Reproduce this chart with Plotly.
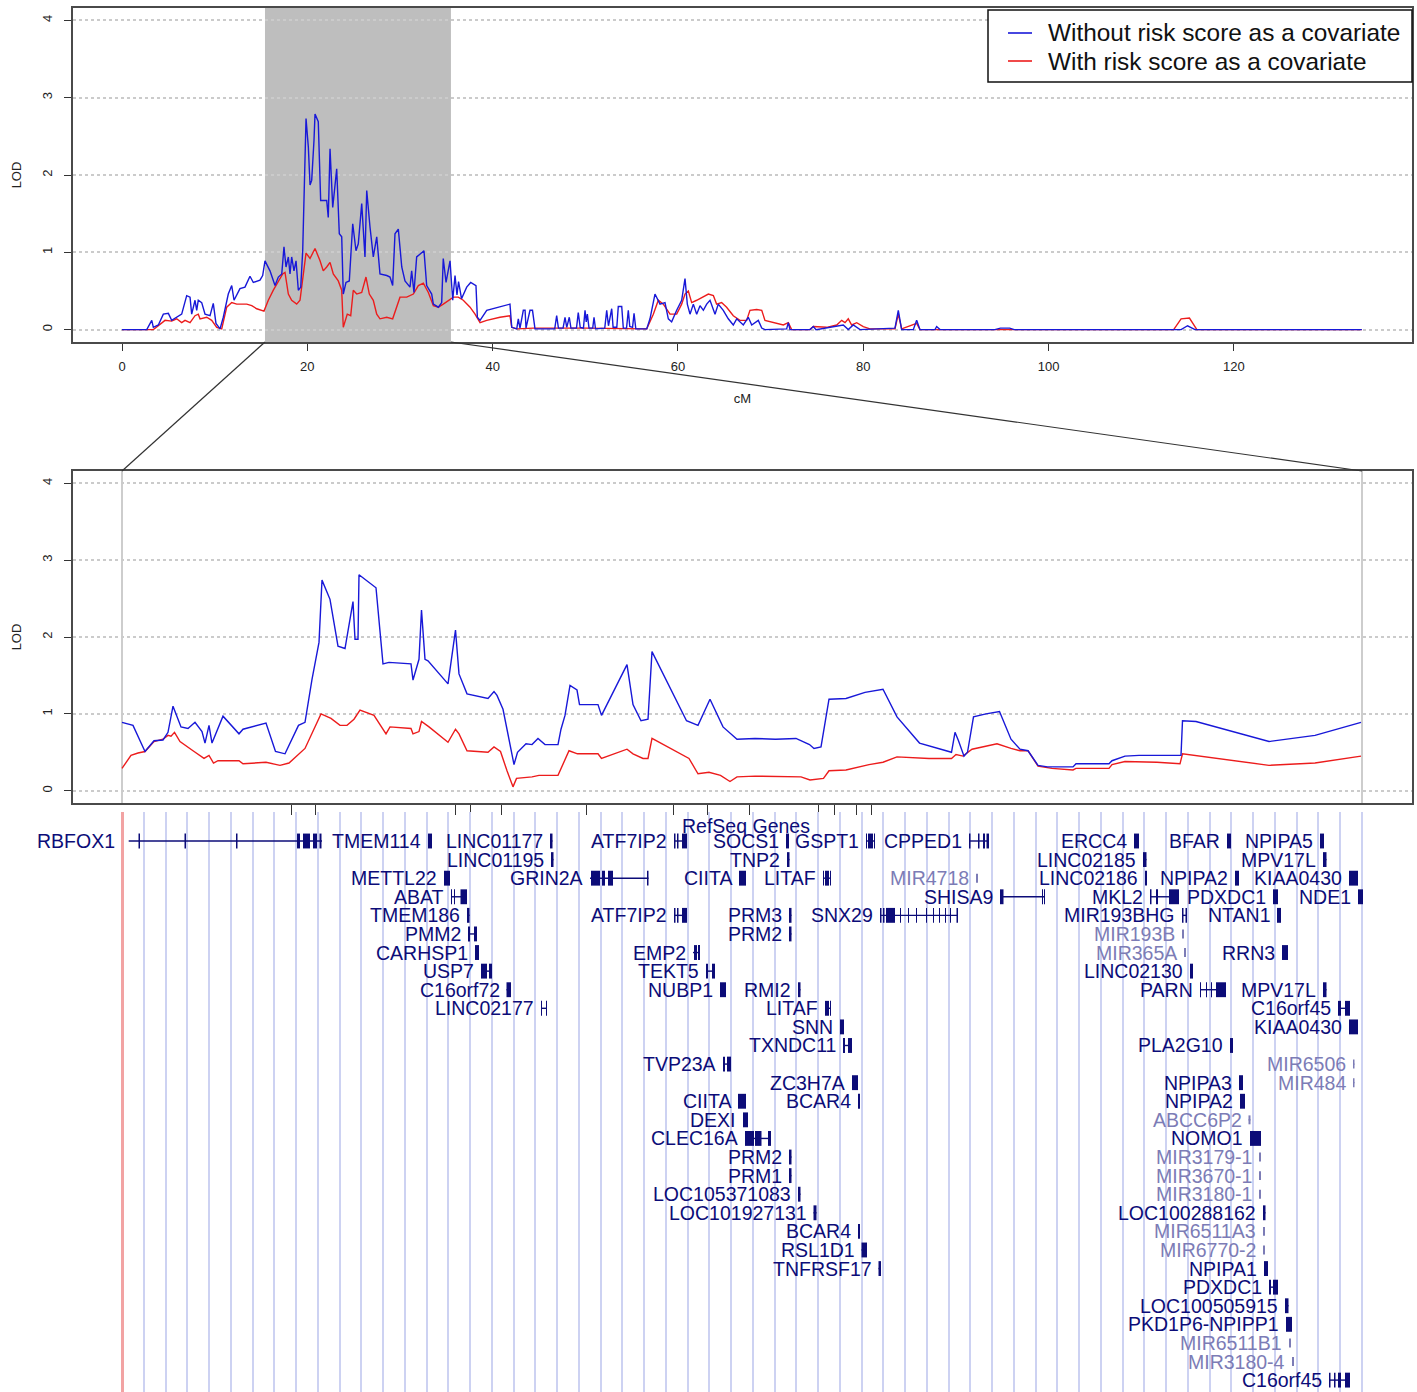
import plotly.graph_objects as go

W, H = 1417, 1392

# ---------------- top panel: genome-wide LOD profile (cM) ----------------
top_blue_cm = [0, 2.67, 3.21, 3.38, 3.92, 4.46, 5.00, 5.36, 6.44, 6.98, 7.34, 7.52, 7.88, 8.06, 8.23, 8.60,
               8.96, 9.50, 9.85, 10.14, 10.58, 10.93, 11.47, 11.84, 12.09, 12.73, 13.27, 13.81, 14.17, 14.54,
               14.89, 15.18, 15.43, 15.97, 16.51, 16.87, 17.24, 17.48, 17.70, 17.95, 18.13, 18.31, 18.56,
               18.78, 19.03, 19.29, 19.50, 19.86, 20.11, 20.29, 20.47, 20.72, 20.83, 21.18, 21.44, 22.09,
               22.26, 22.45, 22.74, 23.17, 23.45, 23.71, 23.88, 24.17, 24.53, 24.90, 25.25, 25.50, 25.87,
               26.22, 26.41, 26.76, 27.12, 27.49, 27.84, 28.57, 28.92, 29.21, 29.46, 29.82, 30.19, 30.54,
               31.08, 31.26, 31.51, 31.80, 32.34, 32.59, 32.88, 33.42, 33.60, 34.14, 34.50, 34.67, 34.97,
               35.40, 35.69, 35.94, 36.15, 36.32, 36.64, 37.20, 37.63, 38.20, 38.35, 38.64, 39.36, 40.79,
               41.87, 42.06, 42.60, 42.77, 42.95, 43.31, 43.50, 43.60, 44.03, 44.30, 44.57, 46.70, 46.91,
               47.10, 47.60, 47.81, 48.00, 48.27, 48.45, 49.05, 49.24, 49.45, 49.80, 49.97, 50.10, 50.22,
               50.40, 50.80, 50.94, 51.10, 52.10, 52.31, 52.50, 52.85, 53.00, 53.40, 53.56, 53.75, 53.93,
               54.10, 54.45, 54.64, 54.80, 55.10, 55.26, 55.45, 56.63, 56.98, 57.52, 58.06, 58.60, 58.96,
               59.32, 59.86, 60.40, 60.76, 61.01, 61.30, 61.66, 62.02, 62.38, 62.74, 63.10, 63.46, 64.00,
               64.35, 64.89, 65.43, 65.97, 66.34, 67.05, 67.59, 67.96, 68.67, 69.04, 69.39, 71.73, 71.91,
               72.09, 74.25, 74.61, 74.90, 76.05, 77.84, 78.38, 78.92, 79.65, 83.42, 83.78, 84.14, 85.40,
               85.76, 86.12, 87.74, 87.92, 88.28, 94.20, 94.80, 95.80, 96.30, 114.30, 115.00, 115.80, 133.80]
top_blue_lod = [0, 0, 0.12, 0.03, 0.06, 0.20, 0.21, 0.12, 0.20, 0.44, 0.42, 0.20, 0.38, 0.25, 0.38, 0.35,
                0.20, 0.18, 0.34, 0.08, 0.01, 0.16, 0.46, 0.57, 0.38, 0.53, 0.55, 0.69, 0.61, 0.63,
                0.64, 0.70, 0.89, 0.76, 0.57, 0.68, 0.72, 1.07, 0.81, 0.94, 0.72, 0.94, 0.76,
                0.89, 0.51, 0.55, 1.02, 2.73, 2.36, 1.87, 1.93, 2.45, 2.79, 2.69, 1.67, 1.67,
                1.45, 2.34, 1.58, 2.08, 1.24, 1.20, 0.46, 0.61, 0.63, 1.37, 1.02, 1.11, 1.63,
                0.94, 1.80, 1.33, 0.94, 1.20, 0.72, 0.70, 0.68, 0.57, 1.24, 1.30, 0.81, 0.63,
                0.55, 0.76, 0.48, 0.94, 1.00, 1.02, 0.57, 0.46, 0.33, 0.29, 0.35, 0.92, 0.61,
                0.89, 0.38, 0.70, 0.45, 0.62, 0.40, 0.55, 0.61, 0.57, 0.16, 0.12, 0.25, 0.29,
                0.33, 0.03, 0.01, 0.14, 0.02, 0.25, 0.25, 0.02, 0.25, 0.25, 0.01, 0.01, 0.18,
                0.02, 0.02, 0.16, 0.03, 0.16, 0.02, 0.02, 0.22, 0.03, 0.02, 0.25, 0.10, 0.20,
                0.02, 0.02, 0.16, 0.01, 0.02, 0.25, 0.05, 0.27, 0.03, 0.03, 0.30, 0.30, 0.30,
                0.02, 0.02, 0.25, 0.04, 0.03, 0.21, 0.01, 0.01, 0.14, 0.46, 0.33, 0.35, 0.14,
                0.10, 0.25, 0.38, 0.66, 0.33, 0.20, 0.33, 0.20, 0.31, 0.25, 0.33, 0.38, 0.20,
                0.33, 0.25, 0.14, 0.06, 0.14, 0.06, 0.16, 0.06, 0.12, 0.02, 0.00, 0.01, 0.09,
                0.00, 0.00, 0.04, 0.00, 0.02, 0.06, 0.00, 0.06, 0.00, 0.02, 0.25, 0.00, 0.00,
                0.12, 0.00, 0.00, 0.04, 0.00, 0.00, 0.02, 0.02, 0.00, 0.00, 0.05, 0.00, 0.00]

top_red_cm = [0, 3.38, 3.92, 4.64, 5.36, 5.90, 6.44, 6.80, 7.34, 7.88, 8.23, 8.42, 9.14, 9.68, 10.22, 10.76,
              11.30, 11.84, 12.38, 13.46, 14.00, 14.54, 15.32, 15.79, 16.33, 16.87, 17.34, 17.59, 17.95,
              18.31, 18.85, 19.21, 19.86, 20.29, 20.83, 21.37, 21.72, 22.09, 22.45, 22.80, 23.34, 23.71,
              23.88, 24.31, 24.68, 24.96, 25.33, 25.87, 26.33, 26.69, 27.12, 27.49, 27.84, 28.57, 29.21,
              30.00, 30.73, 31.44, 31.98, 32.52, 33.06, 33.60, 34.14, 34.67, 35.22, 35.76, 36.29, 36.83,
              37.56, 38.10, 38.64, 39.36, 40.79, 41.87, 42.06, 42.60, 44.39, 50.00, 56.63, 57.34, 57.88,
              58.42, 59.14, 59.86, 60.40, 60.76, 61.12, 61.48, 62.02, 62.74, 63.28, 63.82, 64.17, 64.71,
              65.25, 65.97, 66.69, 67.41, 67.77, 68.49, 69.04, 69.39, 70.47, 71.37, 71.91, 72.27, 74.25,
              74.61, 76.05, 77.13, 77.67, 78.03, 78.38, 78.75, 79.29, 80.00, 80.72, 83.42, 83.78, 84.14,
              85.76, 86.12, 88.28, 113.50, 114.30, 115.20, 116.00, 133.80]
top_red_lod = [0, 0, 0.05, 0.12, 0.11, 0.14, 0.09, 0.12, 0.09, 0.18, 0.20, 0.14, 0.16, 0.12, 0.03, 0.01,
               0.29, 0.35, 0.33, 0.33, 0.31, 0.27, 0.24, 0.38, 0.51, 0.63, 0.72, 0.74, 0.46,
               0.38, 0.33, 0.38, 0.99, 0.92, 1.05, 0.89, 0.76, 0.81, 0.87, 0.72, 0.63, 0.51,
               0.03, 0.20, 0.18, 0.51, 0.46, 0.48, 0.68, 0.46, 0.38, 0.20, 0.14, 0.16, 0.14,
               0.42, 0.42, 0.46, 0.57, 0.60, 0.48, 0.31, 0.29, 0.33, 0.38, 0.42, 0.42, 0.38,
               0.29, 0.20, 0.09, 0.12, 0.16, 0.18, 0.03, 0.01, 0.02, 0.02, 0.01, 0.20, 0.38,
               0.33, 0.20, 0.20, 0.33, 0.46, 0.50, 0.35, 0.38, 0.42, 0.46, 0.44, 0.33, 0.35,
               0.29, 0.18, 0.12, 0.12, 0.25, 0.26, 0.25, 0.12, 0.09, 0.06, 0.09, 0.00, 0.00,
               0.04, 0.03, 0.06, 0.12, 0.09, 0.14, 0.06, 0.09, 0.04, 0.01, 0.01, 0.20, 0.01,
               0.08, 0.00, 0.00, 0.00, 0.14, 0.15, 0.00, 0.00]

zoom_region_cm = [15.43, 35.5]

# ---------------- zoom panel (track coordinate of the gene browser window) ----------------
zoom_blue_pos = [0.00, 0.11, 0.23, 0.32, 0.41, 0.46, 0.51, 0.59, 0.66, 0.73, 0.80, 0.83, 0.87, 0.90, 1.01,
                 1.17, 1.21, 1.44, 1.535, 1.63, 1.765, 1.83, 1.90, 1.97, 2.00, 2.08, 2.16, 2.23, 2.31, 2.33,
                 2.36, 2.37, 2.54, 2.61, 2.67, 2.89, 2.91, 2.97, 2.995, 3.03, 3.06, 3.26, 3.335, 3.37, 3.45,
                 3.66, 3.72, 3.75, 3.81, 3.88, 3.92, 3.955, 4.04, 4.10, 4.16, 4.23, 4.36, 4.39, 4.43, 4.48,
                 4.55, 4.575, 4.76, 4.795, 5.05, 5.11, 5.19, 5.26, 5.30, 5.645, 5.76, 5.88, 6.01, 6.15, 6.33,
                 6.535, 6.74, 6.875, 6.92, 6.99, 7.07, 7.24, 7.43, 7.61, 7.75, 7.975, 8.16, 8.295, 8.33,
                 8.365, 8.42, 8.455, 8.515, 8.64, 8.775, 8.89, 8.98, 9.06, 9.16, 9.255, 9.51, 9.54, 9.87,
                 9.90, 10.03, 10.17, 10.59, 10.605, 10.74, 11.47, 11.93, 12.39]
zoom_blue_lod = [0.89, 0.85, 0.51, 0.65, 0.66, 0.76, 1.10, 0.83, 0.81, 0.89, 0.77, 0.62, 0.85, 0.62, 0.97,
                 0.74, 0.80, 0.88, 0.51, 0.48, 0.85, 0.89, 1.45, 1.93, 2.74, 2.49, 1.88, 1.85, 2.46, 1.97,
                 1.97, 2.81, 2.64, 1.65, 1.67, 1.65, 1.44, 1.71, 2.35, 1.71, 1.69, 1.39, 2.09, 1.52, 1.26,
                 1.20, 1.29, 1.24, 1.06, 0.61, 0.34, 0.50, 0.61, 0.60, 0.68, 0.60, 0.60, 0.80, 0.98, 1.37,
                 1.31, 1.12, 1.12, 0.98, 1.64, 1.12, 0.91, 0.93, 1.81, 0.91, 0.85, 1.19, 0.83, 0.67, 0.68,
                 0.67, 0.68, 0.60, 0.55, 0.57, 1.19, 1.20, 1.28, 1.32, 0.96, 0.62, 0.55, 0.50, 0.76,
                 0.65, 0.45, 0.50, 0.96, 1.00, 1.03, 0.67, 0.54, 0.52, 0.33, 0.31, 0.31, 0.35, 0.35,
                 0.39, 0.45, 0.46, 0.46, 0.91, 0.90, 0.64, 0.72, 0.89]

zoom_red_pos = [0.00, 0.09, 0.16, 0.23, 0.32, 0.41, 0.46, 0.49, 0.525, 0.58, 0.71, 0.82, 0.87, 0.915, 0.96,
                1.17, 1.21, 1.44, 1.58, 1.67, 1.83, 1.99, 2.09, 2.18, 2.25, 2.32, 2.38, 2.52, 2.64, 2.68,
                2.89, 2.91, 2.97, 2.995, 3.07, 3.26, 3.335, 3.37, 3.45, 3.66, 3.72, 3.785, 3.85, 3.91,
                3.945, 4.10, 4.17, 4.36, 4.47, 4.555, 4.76, 4.795, 5.05, 5.11, 5.21, 5.26, 5.30, 5.67,
                5.76, 5.87, 5.985, 6.08, 6.15, 6.33, 6.79, 6.88, 7.015, 7.07, 7.24, 7.47, 7.61, 7.75,
                8.07, 8.295, 8.34, 8.41, 8.50, 8.75, 8.89, 8.98, 9.06, 9.16, 9.30, 9.51, 9.54, 9.87,
                9.90, 10.03, 10.35, 10.58, 10.605, 11.47, 11.93, 12.39]
zoom_red_lod = [0.29, 0.46, 0.49, 0.51, 0.64, 0.67, 0.72, 0.71, 0.76, 0.64, 0.52, 0.42, 0.46, 0.36, 0.39,
                0.39, 0.35, 0.37, 0.33, 0.36, 0.55, 1.00, 0.94, 0.85, 0.85, 0.93, 1.05, 0.98, 0.74, 0.83,
                0.81, 0.74, 0.77, 0.90, 0.83, 0.63, 0.80, 0.74, 0.52, 0.50, 0.57, 0.51, 0.26, 0.05,
                0.16, 0.18, 0.20, 0.20, 0.52, 0.48, 0.48, 0.42, 0.54, 0.48, 0.42, 0.42, 0.68, 0.42,
                0.22, 0.24, 0.20, 0.12, 0.18, 0.19, 0.18, 0.14, 0.16, 0.26, 0.27, 0.34, 0.37, 0.44,
                0.42, 0.42, 0.47, 0.45, 0.54, 0.61, 0.55, 0.52, 0.52, 0.32, 0.29, 0.27, 0.29, 0.29,
                0.34, 0.38, 0.37, 0.35, 0.48, 0.33, 0.36, 0.45]

zoom_window_pos = [0.0, 12.40]
marker_pos = [1.697, 1.938, 3.335, 3.482, 3.795, 4.648, 5.51, 5.853, 6.27, 6.96, 7.122, 7.342, 7.49]

series_names = ["Without risk score as a covariate", "With risk score as a covariate"]

# ---------------- RefSeq gene track ----------------
gene_names = ["RBFOX1", "TMEM114", "LINC01177", "ATF7IP2", "SOCS1", "GSPT1", "CPPED1", "ERCC4", "BFAR",
              "NPIPA5", "LINC01195", "TNP2", "LINC02185", "MPV17L", "METTL22", "GRIN2A", "CIITA", "LITAF",
              "MIR4718", "LINC02186", "NPIPA2", "KIAA0430", "ABAT", "SHISA9", "MKL2", "PDXDC1", "NDE1",
              "TMEM186", "ATF7IP2", "PRM3", "SNX29", "MIR193BHG", "NTAN1", "PMM2", "PRM2", "MIR193B",
              "CARHSP1", "EMP2", "MIR365A", "RRN3", "USP7", "TEKT5", "LINC02130", "C16orf72", "NUBP1",
              "RMI2", "PARN", "MPV17L", "LINC02177", "LITAF", "C16orf45", "SNN", "KIAA0430", "TXNDC11",
              "PLA2G10", "TVP23A", "MIR6506", "ZC3H7A", "NPIPA3", "MIR484", "CIITA", "BCAR4", "NPIPA2",
              "DEXI", "ABCC6P2", "CLEC16A", "NOMO1", "PRM2", "MIR3179-1", "PRM1", "MIR3670-1",
              "LOC105371083", "MIR3180-1", "LOC101927131", "LOC100288162", "BCAR4", "MIR6511A3", "RSL1D1",
              "MIR6770-2", "TNFRSF17", "NPIPA1", "PDXDC1", "LOC100505915", "PKD1P6-NPIPP1", "MIR6511B1",
              "MIR3180-4", "C16orf45"]
gene_rows = [0, 0, 0, 0, 0, 0, 0, 0, 0,
             0, 1, 1, 1, 1, 2, 2, 2, 2,
             2, 2, 2, 2, 3, 3, 3, 3, 3,
             4, 4, 4, 4, 4, 4, 5, 5, 5,
             6, 6, 6, 6, 7, 7, 7, 8, 8,
             8, 8, 8, 9, 9, 9, 10, 10, 11,
             11, 12, 12, 13, 13, 13, 14, 14, 14,
             15, 15, 16, 16, 17, 17, 18, 18,
             19, 19, 20, 20, 21, 21, 22,
             22, 23, 23, 24, 25, 26, 27,
             28, 29]
gene_start = [0.067, 3.06, 4.28, 5.52, 6.64, 7.44, 8.47, 10.12, 11.05,
              11.98, 4.29, 6.65, 10.21, 12.01, 3.22, 4.68, 6.17, 7.01,
              8.54, 10.23, 11.13, 12.27, 3.29, 8.78, 10.28, 11.51, 12.36,
              3.45, 5.52, 6.67, 7.58, 10.60, 11.55, 3.46, 6.67, 10.60,
              3.53, 5.71, 10.62, 11.60, 3.59, 5.84, 10.68, 3.845, 5.98,
              6.76, 10.78, 12.01, 4.19, 7.03, 12.16, 7.18, 12.27, 7.21,
              11.08, 6.01, 12.31, 7.30, 11.17, 12.31, 6.16, 7.36, 11.18,
              6.21, 11.265, 6.23, 11.28, 6.67, 11.37, 6.67, 11.37,
              6.76, 11.37, 6.915, 11.41, 7.36, 11.41, 7.395,
              11.41, 7.565, 11.42, 11.47, 11.63, 11.64, 11.67,
              11.70, 12.07]
gene_end = [2.00, 3.10, 4.305, 5.65, 6.67, 7.53, 8.67, 10.17, 11.09,
            12.02, 4.315, 6.675, 10.245, 12.045, 3.28, 5.265, 6.24, 7.09,
            8.56, 10.25, 11.17, 12.36, 3.45, 9.23, 10.57, 11.56, 12.41,
            3.475, 5.65, 6.695, 8.36, 10.65, 11.59, 3.55, 6.695, 10.62,
            3.57, 5.78, 10.64, 11.66, 3.70, 5.93, 10.71, 3.89, 6.04,
            6.785, 11.04, 12.045, 4.25, 7.09, 12.28, 7.22, 12.36, 7.30,
            11.11, 6.09, 12.325, 7.36, 11.21, 12.325, 6.24, 7.38, 11.23,
            6.26, 11.285, 6.49, 11.39, 6.695, 11.39, 6.695, 11.39,
            6.785, 11.39, 6.945, 11.435, 7.38, 11.43, 7.45,
            11.43, 7.59, 11.46, 11.56, 11.665, 11.70, 11.69,
            11.72, 12.28]
gene_noncoding = [(name.startswith("MIR") and name != "MIR193BHG") or name == "ABCC6P2" for name in gene_names]
gene_exons = {
    "RBFOX1": [(0.165, 0.18), (0.625, 0.64), (1.14, 1.155), (1.75, 1.78), (1.81, 1.88), (1.91, 1.95), (1.975, 1.995)],
    "ATF7IP2": [(5.52, 5.535), (5.55, 5.565), (5.60, 5.65)],
    "GSPT1": [(7.44, 7.45), (7.46, 7.51), (7.52, 7.53)],
    "CPPED1": [(8.47, 8.485), (8.56, 8.575), (8.61, 8.63), (8.645, 8.67)],
    "GRIN2A": [(4.69, 4.78), (4.80, 4.83), (4.86, 4.91), (5.25, 5.265)],
    "LITAF": [(7.01, 7.02), (7.03, 7.07), (7.08, 7.09)],
    "ABAT": [(3.29, 3.30), (3.32, 3.33), (3.385, 3.45)],
    "SHISA9": [(8.78, 8.815), (9.20, 9.21), (9.22, 9.23)],
    "MKL2": [(10.28, 10.295), (10.34, 10.36), (10.47, 10.57)],
    "SNX29": [(7.58, 7.595), (7.61, 7.625), (7.64, 7.73), (7.78, 7.79), (7.86, 7.87), (7.94, 7.95),
              (8.04, 8.05), (8.11, 8.12), (8.17, 8.18), (8.23, 8.24), (8.28, 8.29), (8.345, 8.36)],
    "MIR193BHG": [(10.60, 10.615), (10.635, 10.65)],
    "PMM2": [(3.46, 3.48), (3.52, 3.55)],
    "EMP2": [(5.72, 5.75), (5.76, 5.78)],
    "USP7": [(3.59, 3.65), (3.67, 3.70)],
    "TEKT5": [(5.84, 5.86), (5.90, 5.93)],
    "PARN": [(10.78, 10.79), (10.84, 10.85), (10.89, 10.90), (10.94, 11.04)],
    "LINC02177": [(4.19, 4.20), (4.24, 4.25)],
    "C16orf45": [(12.07, 12.085), (12.12, 12.135), (12.16, 12.19), (12.23, 12.28)],
    "TXNDC11": [(7.21, 7.23), (7.26, 7.30)],
    "TVP23A": [(6.01, 6.03), (6.05, 6.09)],
    "CLEC16A": [(6.23, 6.32), (6.33, 6.395), (6.46, 6.49)],
    "PDXDC1": [(11.47, 11.49), (11.51, 11.56)],
}

# ---------------- styling ----------------
FONT = "Liberation Sans, Arial, Helvetica, sans-serif"
BLUE = "#1818D8"
RED = "#EC1C1C"
NAVY = "#0C0C78"
GENE_GRAY = "#7C7CB6"
BOX = "#4A4A4A"

XDOM = [73 / W, 1412 / W]
TOP_DOM = [1 - 342 / H, 1 - 8 / H]
BOT_DOM = [1 - 803 / H, 1 - 471 / H]
TRK_DOM = [0, 1 - 812 / H]
TOP_XR = [-5.29, 139.22]
LOD_R = [-0.16, 4.16]
POS_R = [-0.49, 12.90]
ROW_R = [29.64, -1.56]


def to_paper(v, rng, dom):
    return dom[0] + (v - rng[0]) / (rng[1] - rng[0]) * (dom[1] - dom[0])


fig = go.Figure()

fig.add_trace(go.Scatter(x=top_red_cm, y=top_red_lod, mode="lines", line=dict(color=RED, width=1.4),
                         name=series_names[1], showlegend=False, xaxis="x", yaxis="y", hoverinfo="skip"))
fig.add_trace(go.Scatter(x=top_blue_cm, y=top_blue_lod, mode="lines", line=dict(color=BLUE, width=1.4),
                         name=series_names[0], showlegend=False, xaxis="x", yaxis="y", hoverinfo="skip"))
fig.add_trace(go.Scatter(x=zoom_red_pos, y=zoom_red_lod, mode="lines", line=dict(color=RED, width=1.4),
                         name=series_names[1], showlegend=False, xaxis="x2", yaxis="y2", hoverinfo="skip"))
fig.add_trace(go.Scatter(x=zoom_blue_pos, y=zoom_blue_lod, mode="lines", line=dict(color=BLUE, width=1.4),
                         name=series_names[0], showlegend=False, xaxis="x2", yaxis="y2", hoverinfo="skip"))

# gene intron lines
for gray in (False, True):
    lx, ly = [], []
    for i, name in enumerate(gene_names):
        if gene_noncoding[i] != gray:
            continue
        lx += [gene_start[i], gene_end[i], None]
        ly += [gene_rows[i], gene_rows[i], None]
    fig.add_trace(go.Scatter(x=lx, y=ly, mode="lines", line=dict(color=GENE_GRAY if gray else NAVY, width=1.4),
                             showlegend=False, xaxis="x3", yaxis="y3", hoverinfo="skip"))

shapes = []
# highlighted region on top panel
shapes.append(dict(type="rect", xref="x", yref="y domain", x0=zoom_region_cm[0], x1=zoom_region_cm[1],
                   y0=0, y1=1, fillcolor="#BEBEBE", line=dict(width=0), layer="below"))
# zoom window borders on bottom panel
for p in zoom_window_pos:
    shapes.append(dict(type="line", xref="x2", yref="y2 domain", x0=p, x1=p, y0=0, y1=1,
                       line=dict(color="#BDBDBD", width=1.5), layer="below"))
# connectors between panels
for c, p in zip(zoom_region_cm, zoom_window_pos):
    shapes.append(dict(type="line", xref="paper", yref="paper",
                       x0=to_paper(c, TOP_XR, XDOM), y0=TOP_DOM[0],
                       x1=to_paper(p, POS_R, XDOM), y1=BOT_DOM[1],
                       line=dict(color="#333333", width=1.2)))
# gene blocks
for i, name in enumerate(gene_names):
    exons = [e for e in gene_exons.get(name, [])
             if e[0] >= gene_start[i] - 1e-9 and e[1] <= gene_end[i] + 1e-9]
    if not exons:
        exons = [(gene_start[i], gene_end[i])]
    hh = 0.24 if gene_noncoding[i] else 0.40
    col = GENE_GRAY if gene_noncoding[i] else NAVY
    for s, e in exons:
        shapes.append(dict(type="rect", xref="x3", yref="y3", x0=s, x1=e,
                           y0=gene_rows[i] - hh, y1=gene_rows[i] + hh,
                           fillcolor=col, line=dict(width=0)))

# legend (R-style box)
LEG = dict(x0=988 / W, x1=1412 / W, y0=1 - 82 / H, y1=1 - 10 / H)
shapes.append(dict(type="rect", xref="paper", yref="paper", **LEG, fillcolor="white",
                   line=dict(color="#111111", width=1.5)))
legend_y = [1 - 33 / H, 1 - 61 / H]
legend_colors = [BLUE, RED]
for yy, col in zip(legend_y, legend_colors):
    shapes.append(dict(type="line", xref="paper", yref="paper", x0=1008 / W, x1=1032 / W, y0=yy, y1=yy,
                       line=dict(color=col, width=1.6)))

annotations = []
for yy, txt in zip(legend_y, series_names):
    annotations.append(dict(x=1046 / W, y=yy, xref="paper", yref="paper", text=txt, showarrow=False,
                            xanchor="left", yanchor="middle",
                            font=dict(family=FONT, size=24.4, color="#111111")))

for i, name in enumerate(gene_names):
    anchor = 0.0 if gene_start[i] < 0.1 else gene_start[i]
    annotations.append(dict(x=anchor, y=gene_rows[i], xref="x3", yref="y3", text=name, showarrow=False,
                            xanchor="right", yanchor="middle", xshift=-5,
                            font=dict(family=FONT, size=19.5, color=GENE_GRAY if gene_noncoding[i] else NAVY)))
annotations.append(dict(x=6.24, y=-0.81, xref="x3", yref="y3", text="RefSeq Genes", showarrow=False,
                        xanchor="center", yanchor="middle",
                        font=dict(family=FONT, size=19.5, color=NAVY)))

axis_common = dict(showline=True, mirror=True, linecolor=BOX, linewidth=1.5, zeroline=False,
                   ticks="outside", tickcolor="#333333", tickwidth=1,
                   tickfont=dict(family=FONT, size=13, color="#222222"))
yaxis_common = dict(axis_common, range=LOD_R, tickvals=[0, 1, 2, 3, 4], tickangle=-90, ticklen=7,
                    ticklabelstandoff=7,
                    showgrid=True, gridcolor="#CBCBCB", griddash="dot", gridwidth=1.5,
                    title=dict(text="LOD", font=dict(family=FONT, size=13, color="#222222"), standoff=15))

fig.update_layout(
    width=W, height=H, autosize=False,
    margin=dict(l=0, r=0, t=0, b=0),
    paper_bgcolor="white", plot_bgcolor="white",
    font=dict(family=FONT, color="#222222"),
    showlegend=False,
    xaxis=dict(axis_common, domain=XDOM, range=TOP_XR, anchor="y", tickvals=[0, 20, 40, 60, 80, 100, 120],
               ticklen=7, ticklabelstandoff=5, showgrid=False,
               title=dict(text="cM", font=dict(family=FONT, size=13, color="#222222"), standoff=21)),
    yaxis=dict(yaxis_common, domain=TOP_DOM, anchor="x"),
    xaxis2=dict(axis_common, domain=XDOM, range=POS_R, anchor="y2", tickvals=marker_pos, ticklen=10,
                showticklabels=False, showgrid=False),
    yaxis2=dict(yaxis_common, domain=BOT_DOM, anchor="x2"),
    xaxis3=dict(domain=XDOM, range=POS_R, anchor="y3", showline=False, ticks="", showticklabels=False,
                tickvals=[0.2175 * k for k in range(1, 58)], showgrid=True, gridcolor="#CDD2F2", gridwidth=2,
                zeroline=True, zerolinecolor="#F2A3A3", zerolinewidth=2.5),
    yaxis3=dict(domain=TRK_DOM, range=ROW_R, anchor="x3", visible=False),
    shapes=shapes,
    annotations=annotations,
)

fig.write_html("out.html", include_plotlyjs=True, config={"displayModeBar": False},
               post_script="document.body.style.margin='0px';")
